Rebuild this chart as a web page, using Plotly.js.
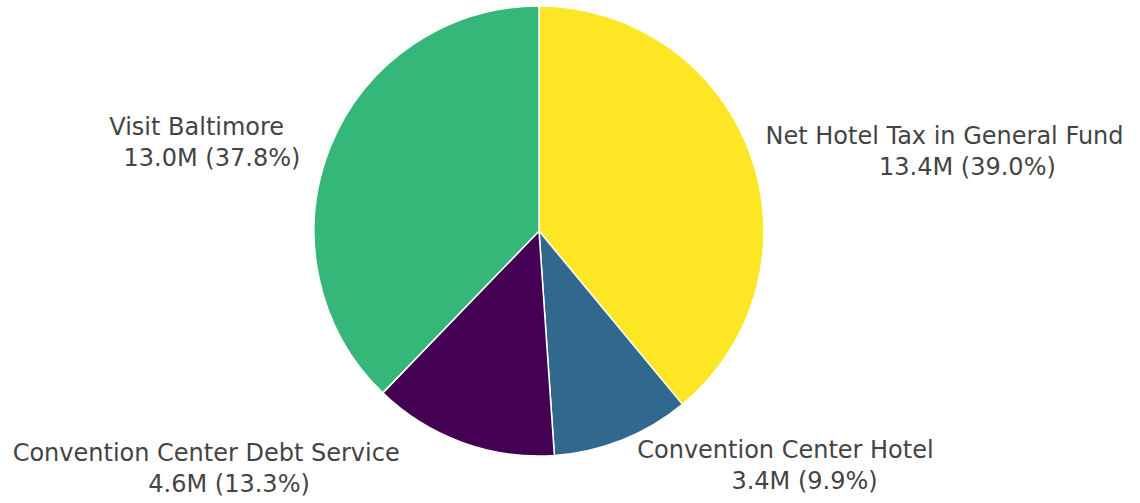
<!DOCTYPE html>
<html>
<head>
<meta charset="utf-8">
<script src="https://cdn.plot.ly/plotly-3.0.1.min.js"></script>
<style>html,body{margin:0;padding:0;background:#fff;}#chart{width:1140px;height:503px;}</style>
</head>
<body>
<div id="chart"></div>
<script>
const labels = ["Net Hotel Tax in General Fund", "Convention Center Hotel", "Convention Center Debt Service", "Visit Baltimore"];
const values = [13.42, 3.41, 4.58, 13.0];
const colors = ["#fde725", "#31688e", "#440154", "#35b779"];

// whitespace padding around the second text line (as seen in the reference)
const leadPad = [6, 5, 24, 6];
const trailPad = [0, 0, 18, 2];
const nb = n => "\u00a0".repeat(n);
const templates = labels.map((_, i) =>
  "%{label}<br>" + nb(leadPad[i]) + "%{value:.1f}M (%{percent:.1%})" + nb(trailPad[i]));

Plotly.newPlot("chart", [{
  type: "pie",
  labels: labels,
  values: values,
  sort: false,
  direction: "clockwise",
  rotation: 0,
  marker: {colors: colors, line: {color: "#ffffff", width: 1.5}},
  textposition: "outside",
  texttemplate: templates,
  textfont: {family: "DejaVu Sans, Verdana, sans-serif", size: 24, color: "#444444"},
  hoverinfo: "none"
}], {
  width: 1140, height: 503,
  showlegend: false,
  margin: {l: 0, r: 62, t: 6, b: 47},
  paper_bgcolor: "#ffffff",
  font: {family: "DejaVu Sans, Verdana, sans-serif", color: "#444444"}
}, {displayModeBar: false});
</script>
</body>
</html>
